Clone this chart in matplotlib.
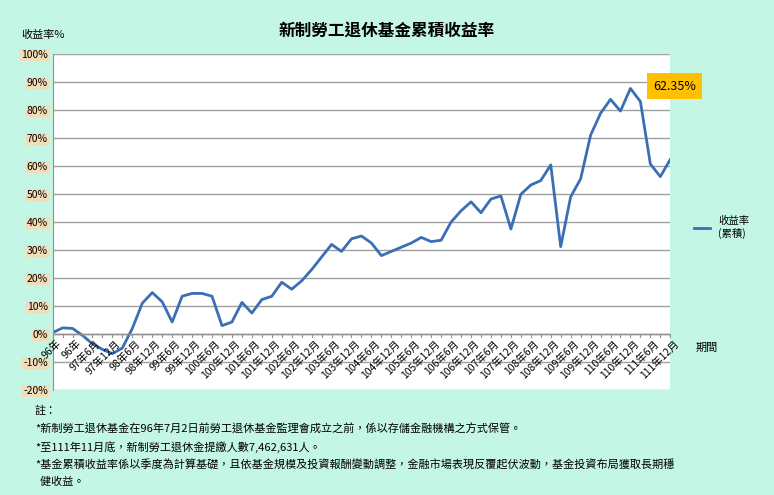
import matplotlib
matplotlib.use("Agg")
import matplotlib.pyplot as plt
import numpy as np

plt.rcParams['font.family'] = ['Noto Sans CJK TC', 'DejaVu Sans']

# 累積收益率(%),每季一點,96年6月 ~ 111年12月
returns = [0.5, 2.2, 2.0, -0.5, -3.5, -5.5, -7.0, -5.0, 2.0, 11.0, 14.8, 11.5, 4.3, 13.5,
           14.5, 14.5, 13.5, 3.0, 4.3, 11.3, 7.5, 12.3, 13.5, 18.5, 16.0, 19.0, 23.0, 27.5,
           32.0, 29.5, 34.0, 35.0, 32.5, 28.0, 29.5, 31.0, 32.5, 34.5, 33.0, 33.5, 40.0,
           44.0, 47.2, 43.3, 48.2, 49.3, 37.5, 49.9, 53.2, 54.8, 60.4, 31.2, 49.0, 55.4,
           71.0, 78.8, 83.8, 79.6, 87.7, 83.0, 60.7, 56.2, 62.35]
tick_labels = ['96年', '96年'] + [f'{y}年{m}月' for y in range(97, 112) for m in (6, 12)]
notes = ['註：',
         '*新制勞工退休基金在96年7月2日前勞工退休基金監理會成立之前，係以存儲金融機構之方式保管。',
         '*至111年11月底，新制勞工退休金提繳人數7,462,631人。',
         '*基金累積收益率係以季度為計算基礎，且依基金規模及投資報酬變動調整，金融市場表現反覆起伏波動，基金投資布局獲取長期穩',
         '  健收益。']

fig = plt.figure(figsize=(7.74, 4.95), dpi=100)
fig.patch.set_facecolor('#c4f6e6')
ax = fig.add_axes([0.068, 0.212, 0.798, 0.679])
ax.set_facecolor('white')

x = np.arange(len(returns))
line, = ax.plot(x, returns, color='#3a6fb5', lw=2, label='收益率\n(累積)')
ax.set_xlim(0, len(returns) - 1)
ax.set_ylim(-20, 100)
ax.set_yticks(range(-20, 101, 10))
ax.set_yticklabels([f'{v}%' for v in range(-20, 101, 10)], fontsize=7.5,
                   bbox=dict(facecolor='#f3dcb8', edgecolor='none', pad=0.5))
ax.grid(axis='y', color='#a0a0a0', lw=1)
ax.set_axisbelow(True)
ax.tick_params(axis='y', length=0)
ax.set_xticks([])
for s in ['top', 'right', 'bottom']:
    ax.spines[s].set_visible(False)
ax.spines['left'].set_color('#909090')
ax.axhline(0, color='#909090', lw=1)
for i in range(len(returns)):
    ax.plot([i, i], [0, -1.2], color='#909090', lw=0.8, clip_on=False)
for i, lab in enumerate(tick_labels):
    ax.text(2 * i + 0.3, -1.5, lab, rotation=45, ha='right', va='top', fontsize=7.5,
            rotation_mode='anchor')

ax.text(len(returns) + 1.5, -5, '期間', fontsize=8, va='center', clip_on=False)
ax.text(-1, 105, '收益率%', fontsize=8, ha='center', va='bottom', clip_on=False)
ax.annotate(f'{returns[-1]:.2f}%', xy=(62, 88), xytext=(60.3, 88.5), fontsize=9,
            ha='left', va='center', annotation_clip=False,
            bbox=dict(facecolor='#ffc000', edgecolor='none', boxstyle='square,pad=0.5'))
fig.text(0.5, 0.925, '新制勞工退休基金累積收益率', fontsize=12, fontweight='bold', ha='center')
fig.legend(handles=[line], loc='center left', bbox_to_anchor=(0.885, 0.54), frameon=False,
           fontsize=7.5, handlelength=1.5)

for k, n in enumerate(notes):
    fig.text(0.045, 0.18 - k * 0.036, n, fontsize=8, va='top')

fig.savefig('out.png', dpi=100, facecolor=fig.get_facecolor())
